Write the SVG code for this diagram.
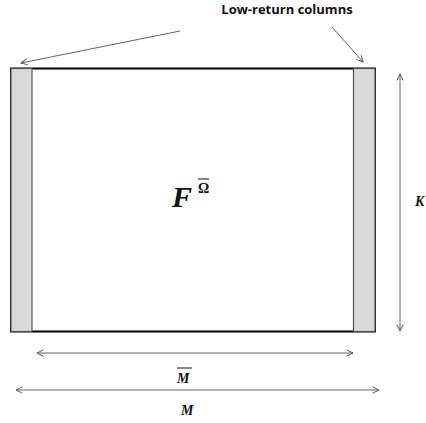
<svg xmlns="http://www.w3.org/2000/svg" width="426" height="423" viewBox="0 0 426 423">
<defs>
<marker id="ah" viewBox="0 0 10 10" refX="9" refY="5" markerWidth="8" markerHeight="8" orient="auto-start-reverse" markerUnits="userSpaceOnUse">
<path d="M1,1 L9,5 L1,9" fill="none" stroke="#555" stroke-width="1.2"/>
</marker>
</defs>
<style>
.conn{stroke:#666;stroke-width:1;fill:none}
.math{font-family:"Liberation Serif",serif;font-style:italic;font-weight:bold;fill:#111}
.title{font-family:"Open Sans","Liberation Sans",sans-serif;font-weight:bold;font-size:13px;fill:#111}
</style>
<rect width="426" height="423" fill="#fff"/>
<g id="matrix">
<rect x="11" y="68.5" width="364" height="263" fill="#fff" stroke="#000" stroke-width="2"/>
<text class="math" x="172" y="207" font-size="30">F</text>
<text x="198" y="193" font-family="Liberation Serif,serif" font-weight="bold" font-size="14" fill="#111">Ω</text>
<line x1="198" y1="179" x2="209" y2="179" stroke="#111" stroke-width="1"/>
</g>
<g id="left-col">
<rect x="11" y="68.5" width="21" height="263" fill="#d9d9d9" stroke="#555" stroke-width="1.2"/>
</g>
<g id="right-col">
<rect x="353.5" y="68.5" width="21.5" height="263" fill="#d9d9d9" stroke="#555" stroke-width="1.2"/>
</g>
<g id="label">
<text class="title" x="287" y="14" text-anchor="middle">Low-return columns</text>
</g>
<g id="connectors">
<line class="conn" x1="180" y1="31" x2="21" y2="63" marker-end="url(#ah)"/>
<line class="conn" x1="332" y1="27" x2="363" y2="62" marker-end="url(#ah)"/>
<line class="conn" x1="400" y1="74" x2="400" y2="331" marker-start="url(#ah)" marker-end="url(#ah)"/>
<line class="conn" x1="37" y1="353" x2="353" y2="353" marker-start="url(#ah)" marker-end="url(#ah)"/>
<line class="conn" x1="16" y1="390" x2="379" y2="390" marker-start="url(#ah)" marker-end="url(#ah)"/>
</g>
<g id="dims">
<text class="math" x="415" y="206" font-size="14">K</text>
<text class="math" x="177" y="383" font-size="14">M</text>
<line x1="177" y1="368" x2="192" y2="368" stroke="#111" stroke-width="1"/>
<text class="math" x="181" y="415" font-size="14">M</text>
</g>
</svg>
